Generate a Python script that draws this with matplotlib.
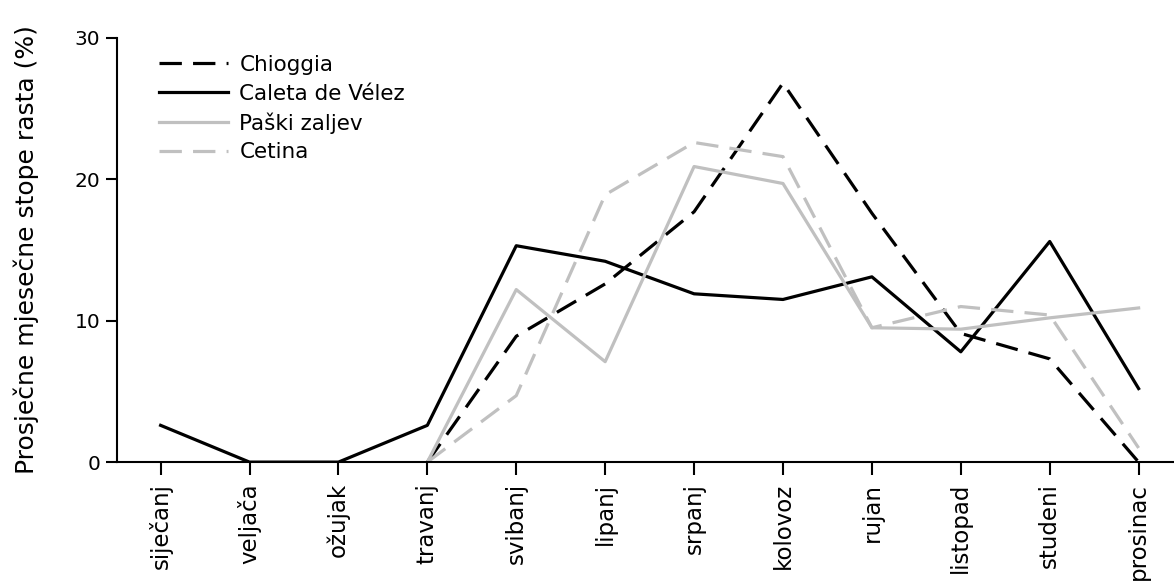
import matplotlib
matplotlib.use("Agg")
import matplotlib.pyplot as plt

months = ["siječanj", "veljača", "ožujak", "travanj", "svibanj", "lipanj",
          "srpanj", "kolovoz", "rujan", "listopad", "studeni", "prosinac"]

# values (%) ; None = no data
chioggia = [None, None, None, 0.0, 8.9, 12.6, 17.7, 26.8, 17.6, 9.1, 7.3, 0.0]
caleta   = [2.6, 0.0, 0.0, 2.6, 15.3, 14.2, 11.9, 11.5, 13.1, 7.8, 15.6, 5.2]
paski    = [None, None, None, 0.0, 12.2, 7.1, 20.9, 19.7, 9.5, 9.4, 10.2, 10.9]
cetina   = [None, None, None, 0.0, 4.7, 18.9, 22.6, 21.6, 9.5, 11.0, 10.4, 1.0]

series_names = ["Chioggia", "Caleta de Vélez", "Paški zaljev", "Cetina"]

plt.rcParams['font.family'] = ['DejaVu Sans']

fig = plt.figure(figsize=(11.74, 5.82), dpi=100)
ax = fig.add_axes([0.0997, 0.206, 0.905, 0.729])

x = list(range(len(months)))

def xy(vals):
    xs = [i for i, v in zip(x, vals) if v is not None]
    ys = [v for v in vals if v is not None]
    return xs, ys

grey = "#c0c0c0"
lw = 2.3
ax.plot(*xy(chioggia), color="black", lw=lw, dashes=(7, 3.5), label=series_names[0])
ax.plot(*xy(caleta), color="black", lw=lw, label=series_names[1])
ax.plot(*xy(paski), color=grey, lw=lw, label=series_names[2])
ax.plot(*xy(cetina), color=grey, lw=lw, dashes=(7, 3.5), label=series_names[3])

ax.set_xlim(-0.49, 11.46)
ax.set_ylim(0, 30)
ax.set_yticks([0, 10, 20, 30])
ax.set_xticks(x)
ax.set_xticklabels(months, rotation=90, fontsize=16.5)
ax.tick_params(axis='y', labelsize=14.5, length=8, width=1.5, direction='out', pad=4)
ax.tick_params(axis='x', length=9, width=1.5, direction='out', pad=6)
for s in ["top", "right"]:
    ax.spines[s].set_visible(False)
for s in ["left", "bottom"]:
    ax.spines[s].set_linewidth(1.5)
ax.set_ylabel("Prosječne mjesečne stope rasta (%)", fontsize=18, labelpad=26)

leg = ax.legend(loc="upper left", bbox_to_anchor=(0.027, 0.99), frameon=False,
                fontsize=15.5, handlelength=3.2, handletextpad=0.55,
                labelspacing=0.4, borderaxespad=0.2)

fig.savefig("out.png", dpi=100)
